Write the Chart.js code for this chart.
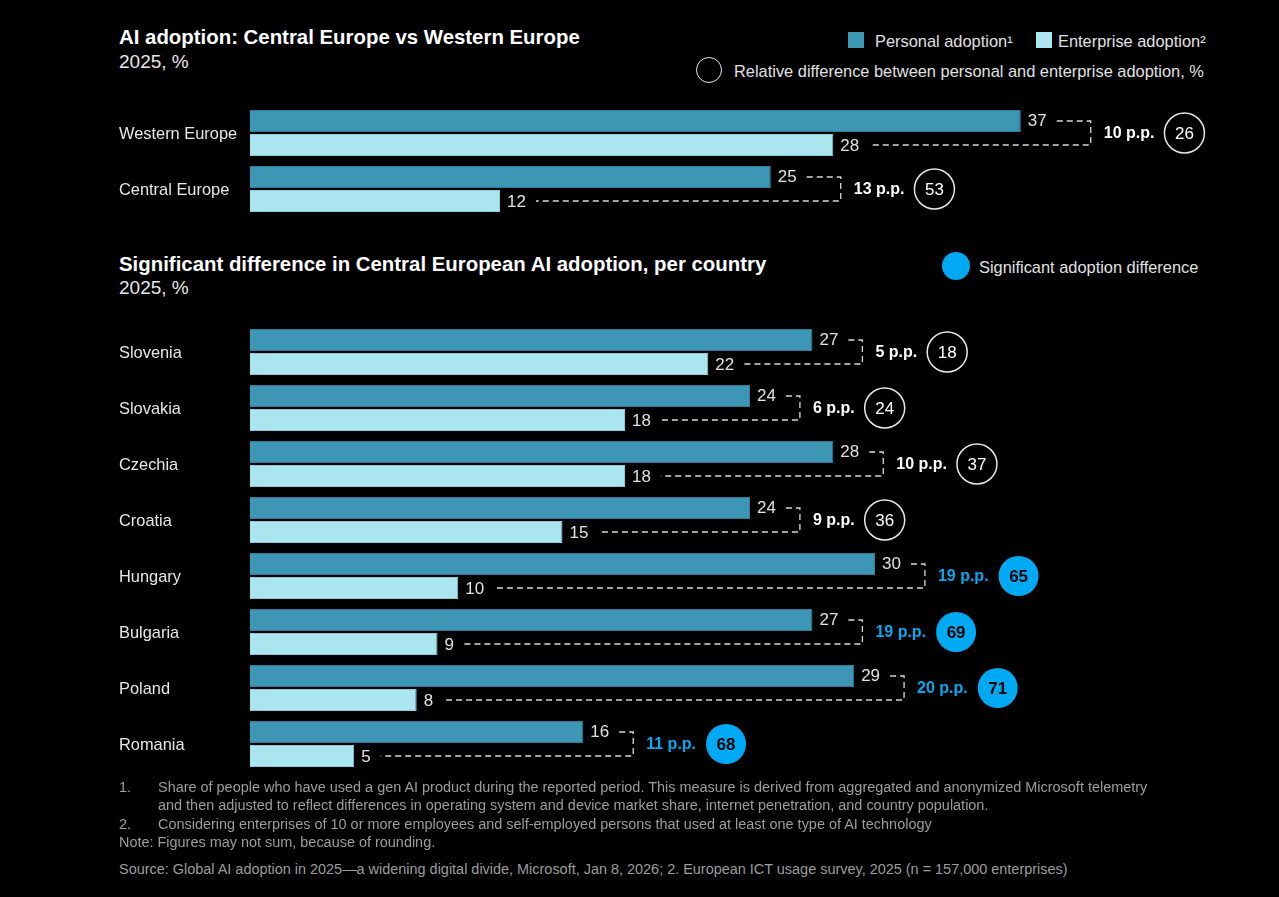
<!DOCTYPE html>
<html>
<head>
<meta charset="utf-8">
<script src="https://cdn.jsdelivr.net/npm/chart.js@4.4.1/dist/chart.umd.min.js"></script>
<style>
  body { margin: 0; background: #000; font-family: "Liberation Sans", Arial, sans-serif; }
  #page { position: relative; width: 1279px; height: 897px; overflow: hidden; background: #000; }
  .t { position: absolute; white-space: nowrap; color: #e6e6e6; }
  .title { font-size: 20.4px; font-weight: bold; color: #fff; line-height: 24px; }
  .sub { font-size: 19px; line-height: 22px; color: #e6e6e6; }
  .leg { font-size: 16.4px; line-height: 20px; color: #e0e0e0; }
  .sw { position: absolute; width: 16px; height: 16px; }
  .note { font-size: 14.45px; line-height: 18px; color: #9c9c9c; }
  canvas { position: absolute; left: 0; }
</style>
</head>
<body>
<div id="page">
  <div class="t title" style="left:119px; top:25px;">AI adoption: Central Europe vs Western Europe</div>
  <div class="t sub" style="left:119px; top:51px;">2025, %</div>

  <div class="sw" style="left:848px; top:32px; background:#3c96b4;"></div>
  <div class="t leg" style="left:875px; top:31px;">Personal adoption¹</div>
  <div class="sw" style="left:1036px; top:32px; background:#abe5ef;"></div>
  <div class="t leg" style="left:1058px; top:31px;">Enterprise adoption²</div>
  <div style="position:absolute; left:696px; top:57px; width:24px; height:24px; border:1.5px solid #e6e6e6; border-radius:50%;"></div>
  <div class="t leg" style="left:734px; top:61px;">Relative difference between personal and enterprise adoption, %</div>

  <div class="t title" style="left:119px; top:252px;">Significant difference in Central European AI adoption, per country</div>
  <div class="t sub" style="left:119px; top:277px;">2025, %</div>
  <div style="position:absolute; left:942px; top:252px; width:28px; height:28px; background:#00a9f4; border-radius:50%;"></div>
  <div class="t leg" style="left:979px; top:257px;">Significant adoption difference</div>

  <canvas id="chartTop" width="1279" height="125" style="top:100px;"></canvas>
  <canvas id="chartBottom" width="1279" height="465" style="top:315px;"></canvas>

  <div class="t note" style="left:119px; top:778px;">1.</div>
  <div class="t note" style="left:158px; top:778px;">Share of people who have used a gen AI product during the reported period. This measure is derived from aggregated and anonymized Microsoft telemetry</div>
  <div class="t note" style="left:158px; top:796px;">and then adjusted to reflect differences in operating system and device market share, internet penetration, and country population.</div>
  <div class="t note" style="left:119px; top:815px;">2.</div>
  <div class="t note" style="left:158px; top:815px;">Considering enterprises of 10 or more employees and self-employed persons that used at least one type of AI technology</div>
  <div class="t note" style="left:119px; top:833px;">Note: Figures may not sum, because of rounding.</div>
  <div class="t note" style="left:119px; top:860px;">Source: Global AI adoption in 2025—a widening digital divide, Microsoft, Jan 8, 2026; 2. European ICT usage survey, 2025 (n = 157,000 enterprises)</div>
</div>

<script>
// regional comparison
var regions = ['Western Europe', 'Central Europe'];
var regionPersonal = [37, 25];
var regionEnterprise = [28, 12];
var regionGapPP = [10, 13];
var regionRelative = [26, 53];
var regionSignificant = [false, false];

// per country
var countries = ['Slovenia', 'Slovakia', 'Czechia', 'Croatia', 'Hungary', 'Bulgaria', 'Poland', 'Romania'];
var countryPersonal = [27, 24, 28, 24, 30, 27, 29, 16];
var countryEnterprise = [22, 18, 18, 15, 10, 9, 8, 5];
var countryGapPP = [5, 6, 10, 9, 19, 19, 20, 11];
var countryRelative = [18, 24, 37, 36, 65, 69, 71, 68];
var countrySignificant = [false, false, false, false, true, true, true, true];

var FONT = '"Liberation Sans", Arial, sans-serif';
var BLUE = '#00a9f4';

// labels, dashed brackets, p.p. text and circles
var annotPlugin = {
    id: 'annot',
    afterDatasetsDraw: function(chart, args, opts) {
        var ctx = chart.ctx;
        var yScale = chart.scales.y;
        var m0 = chart.getDatasetMeta(0);
        var m1 = chart.getDatasetMeta(1);
        ctx.save();
        ctx.textBaseline = 'middle';
        ctx.textAlign = 'left';
        chart.data.labels.forEach(function(lab, i) {
            var yc = yScale.getPixelForValue(i);
            ctx.font = '16.4px ' + FONT;
            ctx.fillStyle = '#e6e6e6';
            ctx.fillText(lab, 119, yc + 1);

            var p = m0.data[i], e = m1.data[i];
            var pv = String(chart.data.datasets[0].data[i]);
            var ev = String(chart.data.datasets[1].data[i]);
            ctx.font = '17px ' + FONT;
            ctx.fillStyle = '#e0e0e0';
            ctx.fillText(pv, p.x + 7, p.y);
            ctx.fillText(ev, e.x + 7, e.y + 1);
            var pEnd = p.x + 7 + ctx.measureText(pv).width;
            var eEnd = e.x + 7 + ctx.measureText(ev).width;
            var bx = pEnd + opts.bracketGap;

            ctx.beginPath();
            ctx.setLineDash([6, 4]);
            ctx.lineWidth = 1.3;
            ctx.strokeStyle = '#d9d9d9';
            ctx.moveTo(pEnd + 10, p.y);
            ctx.lineTo(bx, p.y);
            ctx.lineTo(bx, e.y);
            ctx.lineTo(eEnd + 10, e.y);
            ctx.stroke();
            ctx.setLineDash([]);

            var sig = opts.significant[i];
            var pp = opts.gap[i] + ' p.p.';
            ctx.font = 'bold 16px ' + FONT;
            ctx.fillStyle = sig ? BLUE : '#ffffff';
            var tx = bx + 13;
            ctx.fillText(pp, tx, yc + 1);
            var ppEnd = tx + ctx.measureText(pp).width;

            var r = 20;
            var cx = ppEnd + 10 + r;
            ctx.beginPath();
            ctx.arc(cx, yc, r, 0, Math.PI * 2);
            if (sig) {
                ctx.fillStyle = BLUE;
                ctx.fill();
                ctx.fillStyle = '#000';
                ctx.font = 'bold 17px ' + FONT;
            } else {
                ctx.lineWidth = 1.5;
                ctx.strokeStyle = '#e6e6e6';
                ctx.stroke();
                ctx.fillStyle = '#ffffff';
                ctx.font = '17px ' + FONT;
            }
            ctx.textAlign = 'center';
            ctx.fillText(String(opts.relative[i]), cx, yc + 1);
            ctx.textAlign = 'left';
        });
        ctx.restore();
    }
};

function makeChart(id, labels, personal, enterprise, gap, relative, significant, pad, bracketGap) {
    return new Chart(document.getElementById(id), {
        type: 'bar',
        data: {
            labels: labels,
            datasets: [{
                label: 'Personal adoption',
                data: personal,
                backgroundColor: '#3c96b4',
                borderColor: '#2c7d99',
                borderWidth: 1,
                barPercentage: 22 / 24,
                categoryPercentage: 48 / 56
            }, {
                label: 'Enterprise adoption',
                data: enterprise,
                backgroundColor: '#abe5ef',
                borderColor: '#86cedc',
                borderWidth: 1,
                barPercentage: 22 / 24,
                categoryPercentage: 48 / 56
            }]
        },
        options: {
            indexAxis: 'y',
            responsive: false,
            animation: false,
            layout: { padding: pad },
            scales: {
                x: { min: 0, max: 48, display: false },
                y: { display: false }
            },
            plugins: {
                legend: { display: false },
                tooltip: { enabled: false },
                annot: { gap: gap, relative: relative, significant: significant, bracketGap: bracketGap }
            }
        },
        plugins: [annotPlugin]
    });
}

makeChart('chartTop', regions, regionPersonal, regionEnterprise, regionGapPP, regionRelative, regionSignificant,
    { left: 250, right: 29, top: 5, bottom: 8 }, 44);
makeChart('chartBottom', countries, countryPersonal, countryEnterprise, countryGapPP, countryRelative, countrySignificant,
    { left: 250, right: 29, top: 9, bottom: 8 }, 24);
</script>
</body>
</html>
